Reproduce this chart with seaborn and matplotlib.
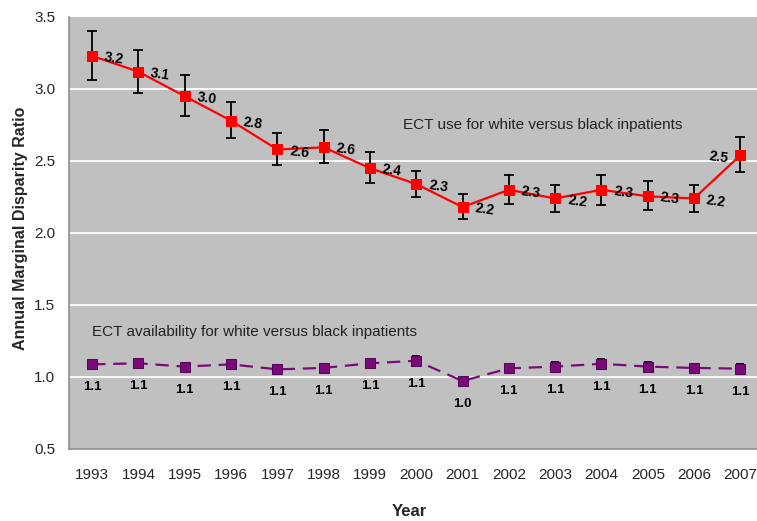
import matplotlib
matplotlib.use("Agg")
import matplotlib.pyplot as plt
import seaborn as sns
import pandas as pd
import numpy as np

years = ["1993", "1994", "1995", "1996", "1997", "1998", "1999", "2000",
         "2001", "2002", "2003", "2004", "2005", "2006", "2007"]

use_ratio = [3.23, 3.12, 2.95, 2.78, 2.58, 2.595, 2.45, 2.34, 2.18, 2.30,
             2.24, 2.30, 2.255, 2.24, 2.54]
use_low = [3.065, 2.975, 2.815, 2.657, 2.47, 2.484, 2.35, 2.248, 2.097, 2.20,
           2.144, 2.197, 2.158, 2.146, 2.424]
use_high = [3.405, 3.273, 3.10, 2.91, 2.692, 2.715, 2.56, 2.431, 2.271, 2.40,
            2.331, 2.403, 2.359, 2.331, 2.665]
use_labels = ["3.2", "3.1", "3.0", "2.8", "2.6", "2.6", "2.4", "2.3", "2.2", "2.3",
              "2.2", "2.3", "2.3", "2.2", "2.5"]

avail_ratio = [1.088, 1.095, 1.072, 1.088, 1.053, 1.063, 1.095, 1.113, 0.972, 1.06,
               1.072, 1.092, 1.072, 1.063, 1.058]
avail_err = [0.025, 0.025, 0.025, 0.025, 0.02, 0.02, 0.03, 0.03, 0.02, 0.03,
             0.03, 0.034, 0.03, 0.03, 0.03]
avail_labels = ["1.1", "1.1", "1.1", "1.1", "1.1", "1.1", "1.1", "1.1", "1.0", "1.1",
                "1.1", "1.1", "1.1", "1.1", "1.1"]

y_ticks = [0.5, 1.0, 1.5, 2.0, 2.5, 3.0, 3.5]

sns.set_style("white")
plt.rcParams["font.family"] = ["Liberation Sans", "DejaVu Sans"]

pos = np.arange(len(years))
df_use = pd.DataFrame({"pos": pos, "ratio": use_ratio})
df_av = pd.DataFrame({"pos": pos, "ratio": avail_ratio})

fig = plt.figure(figsize=(7.57, 5.21), dpi=100)
ax = fig.add_axes([69 / 757, 1 - 449 / 521, 694.5 / 757, 432 / 521])
ax.set_facecolor("#C0C0C0")

for yt in y_ticks[1:-1]:
    ax.axhline(yt, color="white", lw=1.3, zorder=1)

# error bars
ax.errorbar(pos, use_ratio,
            yerr=[np.array(use_ratio) - np.array(use_low), np.array(use_high) - np.array(use_ratio)],
            fmt="none", ecolor="black", elinewidth=1.3, capsize=3.3, capthick=1.3, zorder=3)
ax.errorbar(pos, avail_ratio, yerr=avail_err,
            fmt="none", ecolor="black", elinewidth=1.3, capsize=3.0, capthick=1.3, zorder=3)

sns.lineplot(data=df_use, x="pos", y="ratio", ax=ax, color="#FF0000", lw=1.6,
             marker="s", markersize=7.5, markeredgecolor="#FF0000", zorder=4)
sns.lineplot(data=df_av, x="pos", y="ratio", ax=ax, color="#7A0A7A", lw=1.6,
             marker="s", markersize=6.5, markeredgecolor="#550555", zorder=4,
             linestyle=(0, (6, 3.5)))

for i, (v, lab) in enumerate(zip(use_ratio, use_labels)):
    dx = -15.8 if i == len(years) - 1 else 15.8
    ax.annotate(lab, (i, v), xytext=(dx, -1.8), textcoords="offset points",
                ha="center", va="center", fontsize=10, fontweight="bold",
                rotation=-8, color="black", zorder=5)

for i, (v, lab) in enumerate(zip(avail_ratio, avail_labels)):
    ax.annotate(lab, (i, v), xytext=(0, -16.5), textcoords="offset points",
                ha="center", va="center", fontsize=9.5, fontweight="bold",
                color="black", zorder=5)

ax.text(6.72, 2.75, "ECT use for white versus black inpatients", fontsize=11,
        ha="left", va="center", color="#222222", zorder=5)
ax.text(0.0, 1.3125, "ECT availability for white versus black inpatients", fontsize=11,
        ha="left", va="center", color="#222222", zorder=5)

ax.set_xlim(-0.5, 14.5)
ax.set_ylim(0.5, 3.5)
ax.set_yticks(y_ticks)
ax.set_yticklabels([f"{t:.1f}" for t in y_ticks], fontsize=11)
ax.set_xticks(pos)
ax.set_xticklabels(years, fontsize=11)
ax.set_xticks(np.arange(-0.5, 15, 1.0), minor=True)
ax.tick_params(axis="x", which="major", length=0, pad=14)
ax.tick_params(axis="x", which="minor", length=5, color="#888888", width=1)
ax.tick_params(axis="y", which="major", length=4, color="#888888", width=1, pad=6, direction="out")

ax.set_xlabel("Year", fontsize=12, fontweight="bold")
ax.set_ylabel("Annual Marginal Disparity Ratio", fontsize=11.5, fontweight="bold")
ax.yaxis.set_label_coords(-0.059, 0.51)
ax.xaxis.set_label_coords(0.49, -0.128)

for s in ["top", "right"]:
    ax.spines[s].set_visible(False)
for s in ["left", "bottom"]:
    ax.spines[s].set_color("#909090")
    ax.spines[s].set_linewidth(1.2)

fig.savefig("out.png", dpi=100)
